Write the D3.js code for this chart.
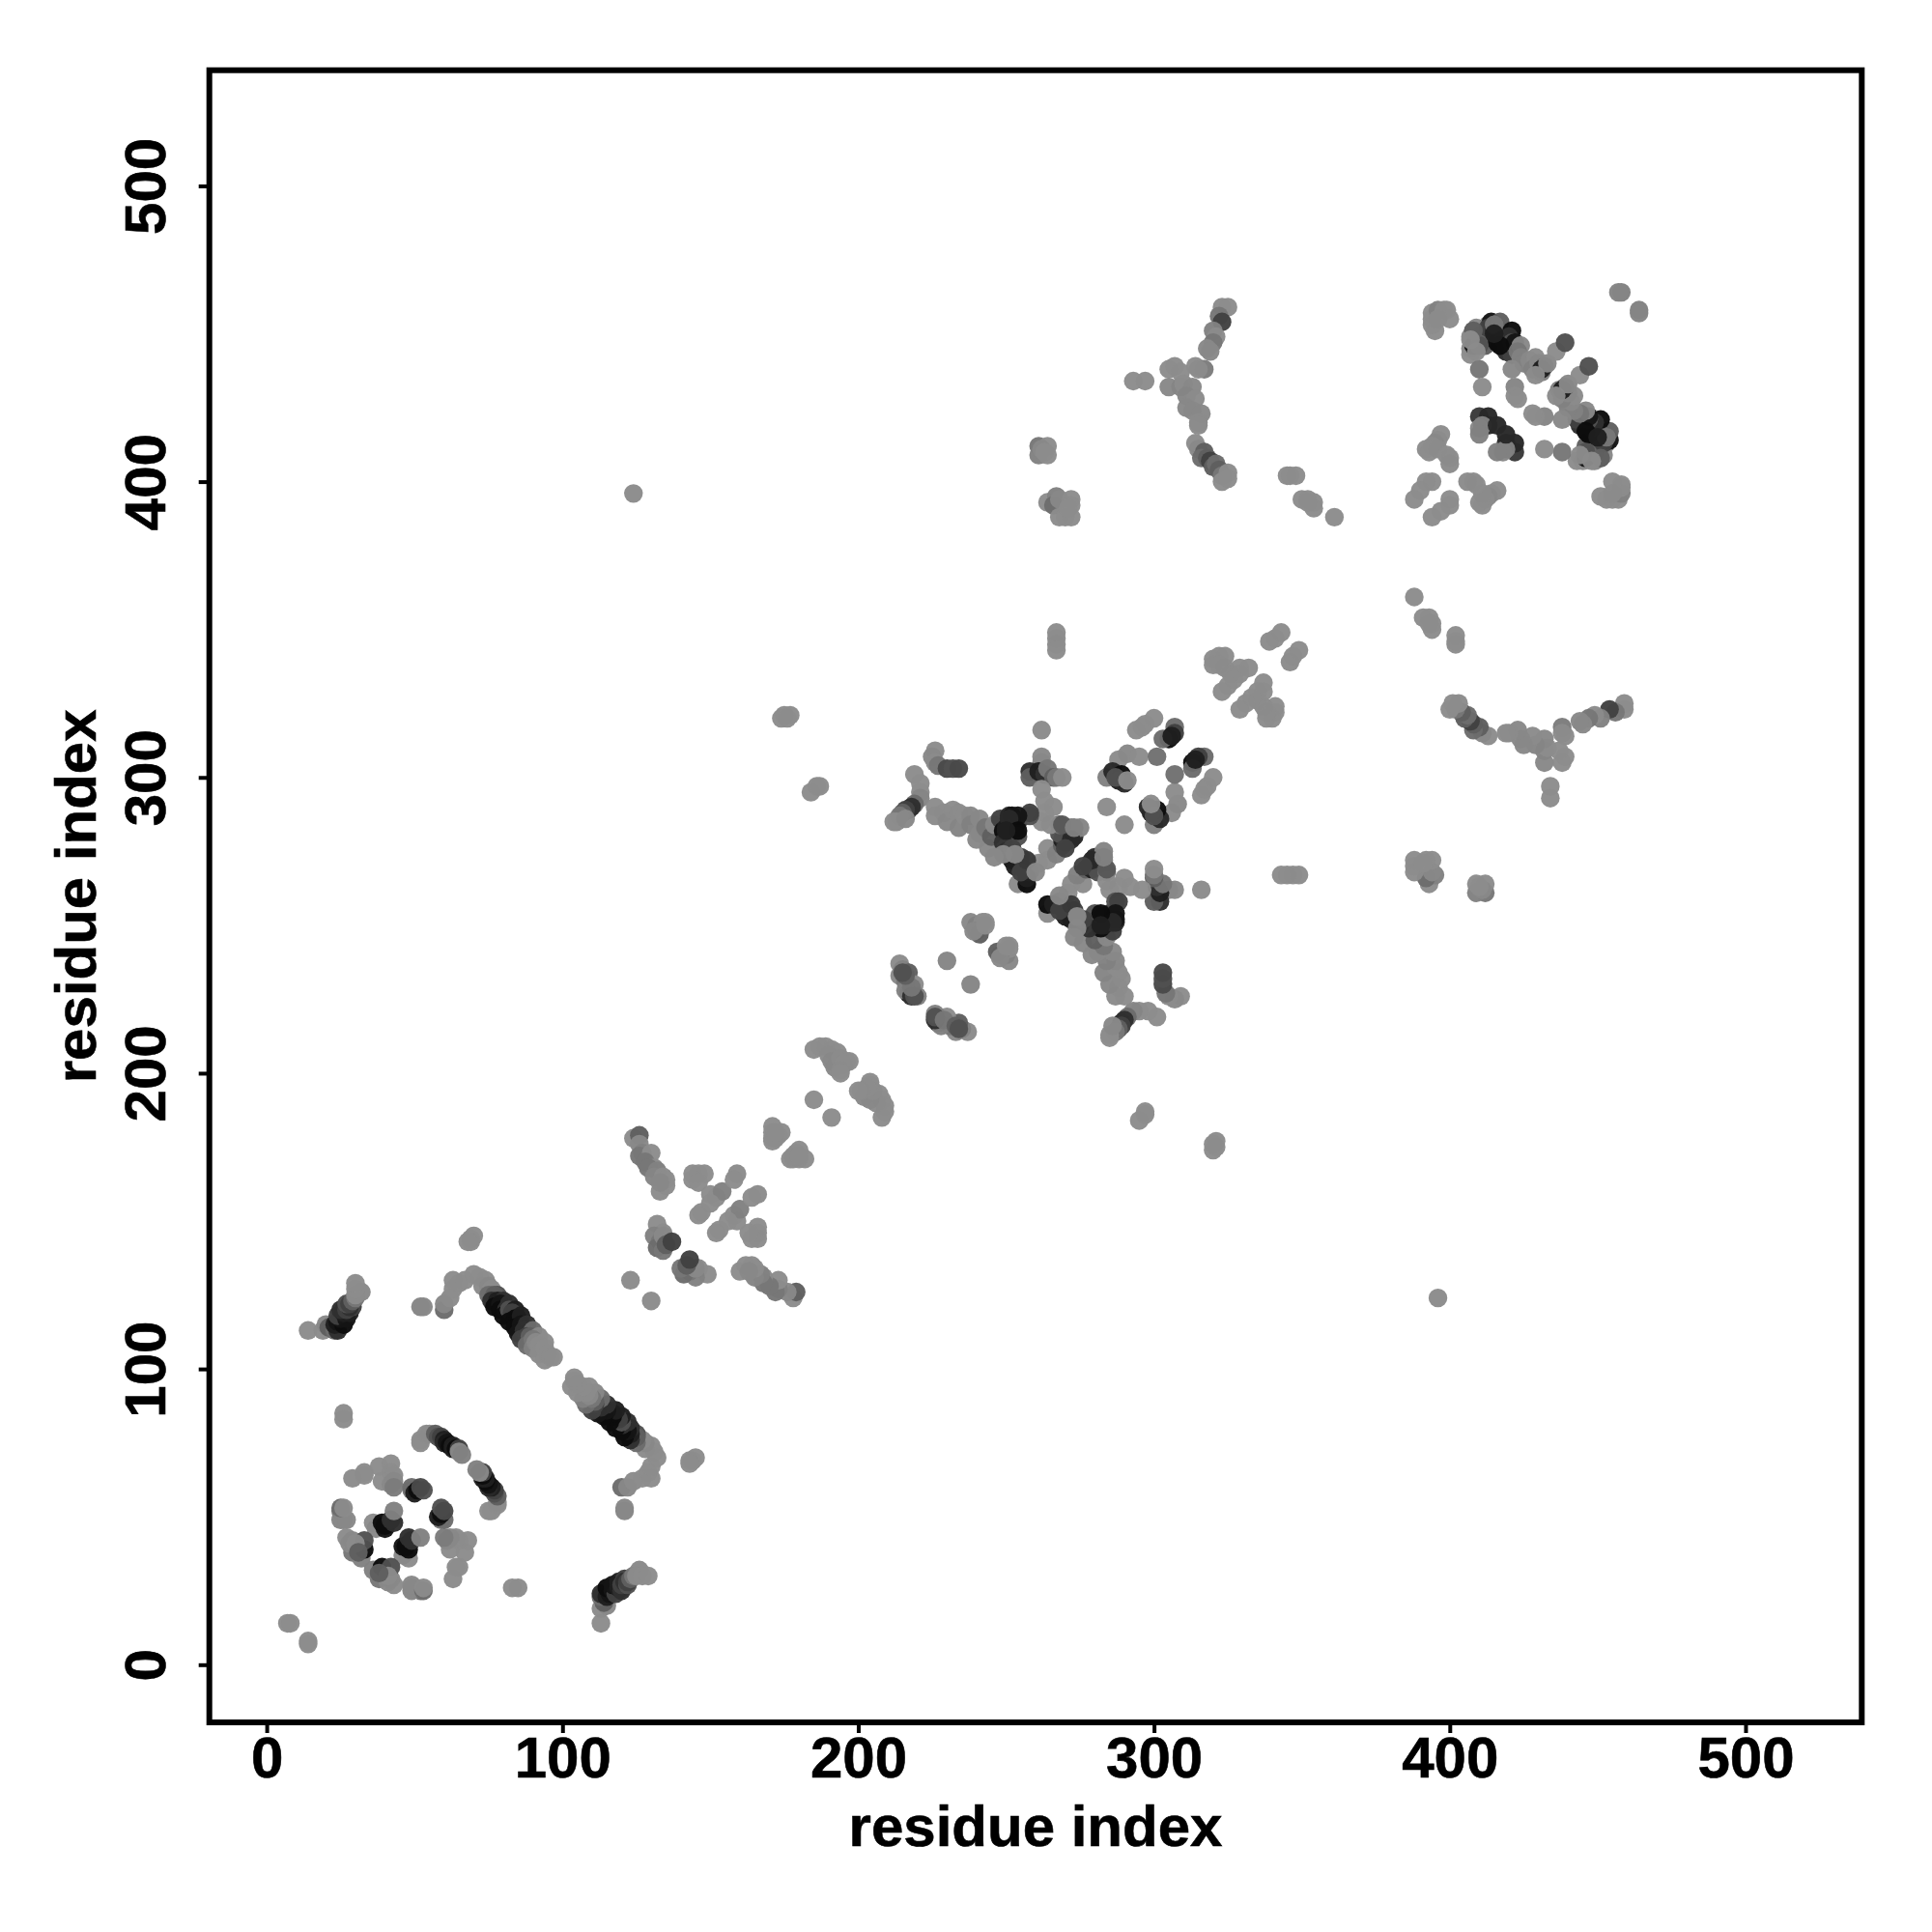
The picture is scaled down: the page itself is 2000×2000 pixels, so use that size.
<!DOCTYPE html>
<html><head><meta charset="utf-8">
<script src="https://cdn.jsdelivr.net/npm/d3@7"></script>
<style>html,body{margin:0;padding:0;background:#fff}svg{display:block}text{font-family:"Liberation Sans",Arial,sans-serif;font-weight:bold;fill:#000;stroke:#000;stroke-width:.6px}</style>
</head><body><div id="chart"></div>
<script>
// Contact pairs: [residue i, residue j, strength 0..1]. The map is symmetric.
const tickValues=[0,100,200,300,400,500];
const axisTitle="residue index";
const contactsEnds=[[7,14,0],[8,14,0],[26,85,0],[26,83,0],[124,396,.03],[123,130,.03],[184,295,0],[186,297,0],[187,297,0],[175,321,0],[177,321,0],[174,320,0],[176,320,0],[185,191,.02]];
const contactsArc=[[14,113,0],[19,113,.05],[20,115,.1],[21,114,.5],[23,113,.4],[24,113,.8],[23,115,.9],[24,116,.95],[26,115,1],[25,117,.95],[25,118,1],[24,118,.7],[27,117,.95],[26,119,.9],[26,120,.9],[28,119,.9],[25,120,.8],[27,120,.7],[29,121,.7],[28,121,.8],[27,122,.6],[28,122,.7],[29,123,.5],[30,124,.3],[32,126,.1],[30,125,.05],[30,127,0],[30,129,0]];
const contactsStrand=[[60,120,.4],[60,122,.1],[62,124,.05],[63,127,0],[65,129,0],[63,130,0],[67,130,0],[52,121,.15],[53,121,.1],[69,143,0],[69,144,0],[70,145,0],[68,143,0],[70,132,0],[72,131,0],[74,130,0],[73,128,.05],[75,128,.1],[76,127,.05],[78,125,.6],[75,125,.4],[77,125,.5],[76,123,.8],[78,123,.9],[80,123,.8],[77,121,1],[79,122,.95],[79,120,1],[82,122,.8],[81,120,.8],[80,118,1],[82,120,.6],[84,120,.9],[83,119,.7],[82,116,1],[84,117,1],[85,117,1],[86,118,.9],[84,114,1],[86,115,.95],[88,115,.8],[85,112,.95],[87,113,.8],[90,113,.4],[86,110,.7],[88,111,.7],[89,111,.5],[88,108,.4],[92,111,.1],[90,110,.3],[90,107,.2],[91,109,.1],[94,109,0],[92,108,.05],[92,105,.05],[94,107,0],[94,103,0],[95,105,0],[96,104,0],[97,104,0]];
const contactsBarrel=[[29,63,.05],[33,65,0],[33,64,0],[38,67,0],[42,68,0],[39,62,0],[42,65,0],[43,64,0],[42,61,.1],[43,62,.1],[43,60,.25],[49,59,.3],[49,60,.4],[50,58,.9],[51,59,1],[53,59,.6],[52,60,.65],[25,52,.3],[25,49,.15],[26,49,.1],[27,49,.1],[25,53,.4],[26,53,.05],[36,48,0],[37,46,.1],[40,46,.95],[39,48,1],[41,48,.95],[40,47,1],[43,48,.8],[42,49,.8],[43,52,.2],[27,43,.05],[29,42,.1],[29,38,.3],[28,41,.1],[32,36,.2],[33,39,1],[33,42,.6],[30,41,.05],[31,38,.5],[52,75,0],[52,76,0],[54,78,0],[55,78,.05],[57,78,.5],[58,77,.6],[59,77,.7],[60,76,.9],[60,75,.85],[61,75,.95],[62,74,1],[63,74,.9],[63,73,.9],[64,73,1],[65,73,.7],[65,72,.1],[66,71,.2]];
const contactsMiddle=[[124,178,0],[126,179,.5],[126,176,.1],[127,173,.2],[126,172,.3],[130,173,0],[128,170,.3],[131,168,.05],[129,168,.3],[132,167,.2],[131,165,.15],[134,165,0],[135,164,0],[133,160,0],[135,162,0],[133,163,.1],[132,149,0],[134,146,.05],[131,145,.2],[133,143,.3],[132,141,.4],[134,145,.1],[134,140,.3],[135,142,.5],[137,143,.7],[144,166,0],[146,166,0],[148,166,0],[144,164,0],[146,163,0],[150,159,0],[152,158,0],[154,160,.2],[159,166,.03],[158,164,0],[146,152,0],[147,153,0],[150,156,0],[171,180,0],[173,179,0],[171,178,0],[171,177,0],[171,182,0],[174,180,0],[172,178,0],[172,180,0],[185,208,0],[187,209,0],[189,209,0],[191,208,0],[193,207,0],[190,206,.03],[191,204,.1],[192,202,.1],[194,205,.05],[196,204,0],[197,204,0],[195,203,0],[194,201,.05],[194,200,0]];
const contactsCore=[[262,316,.05],[262,307,.1],[262,305,.1],[258,302,.8],[258,300,.5],[261,302,.9],[263,301,.8],[264,303,.3],[266,300,.5],[267,300,.3],[269,300,0],[262,296,0],[263,292,0],[266,290,0],[263,288,0],[262,285,0],[226,309,0],[225,307,.1],[226,305,.05],[227,304,.3],[230,303,.65],[232,303,.6],[234,303,.65],[219,301,.02],[221,298,0],[221,295,.02],[221,293,.15],[219,291,.4],[218,290,.8],[217,289,.8],[216,289,.7],[215,288,.5],[214,287,.3],[213,285,.05],[212,285,0],[216,286,.1],[226,290,.02],[226,287,.05],[229,288,.03],[230,285,.1],[232,289,.05],[234,288,.05],[234,283,.15],[236,287,0],[238,287,.1],[238,284,.2],[241,286,.1],[241,281,.1],[240,279,.1],[243,283,.3],[244,276,.1],[245,280,.5],[246,284,.1],[248,286,.7],[249,282,1],[251,287,.85],[250,283,.9],[252,287,.95],[253,283,.85],[254,285,.8],[254,280,.6],[258,287,.6],[250,275,.9],[249,278,.8],[252,272,.95],[252,276,.7],[253,270,.9],[255,273,.7],[254,264,.05],[257,264,1],[258,268,.4],[257,266,.9],[256,269,.85],[261,271,0],[264,272,0],[264,276,0],[267,274,.2],[269,277,.5],[269,279,.9],[270,278,.8],[268,281,.6],[273,280,.85],[272,283,.1],[275,283,.15],[268,284,.4],[265,284,.05],[255,268,.7],[257,272,.75],[253,274,.1],[260,268,.1],[272,279,.85],[270,276,.7],[269,284,.55],[273,283,.2],[258,288,.7],[254,287,.95],[251,286,.85],[254,282,1],[250,282,.9],[249,274,.1],[246,273,.1]];
const contactsRing=[[284,290,.02],[294,316,0],[296,317,0],[297,318,0],[300,320,0],[288,306,.03],[291,308,.1],[295,307,.02],[301,307,.35],[284,300,.2],[286,302,.85],[289,301,1],[288,299,.9],[290,298,.85],[287,300,.6],[291,299,.05],[307,317,.4],[307,315,.7],[305,313,1],[303,313,.4],[306,314,.9],[214,237,.05],[215,235,.2],[214,233,.1],[217,234,.5],[216,231,.3],[219,230,0],[217,227,.9],[216,228,.2],[218,226,.8],[220,226,.2],[219,226,.6],[218,229,.3],[216,233,.5],[215,234,.6],[230,238,.15],[238,251,.1],[240,250,.2],[242,251,.05],[240,248,.3],[241,247,.5],[239,248,.1],[243,251,0],[243,250,.05]];
const contactsUpper=[[323,459,.05],[325,459,0],[322,456,.3],[323,454,.7],[320,451,.2],[321,449,.05],[320,447,.3],[318,445,.1],[319,444,.1],[314,439,.02],[317,438,.25],[315,438,.05],[305,438,0],[307,439,0],[309,437,0],[305,432,.1],[309,432,.15],[310,433,0],[313,432,.1],[311,429,.15],[314,428,.05],[311,425,.1],[313,424,.1],[316,423,.1],[315,420,.05],[315,419,.05],[293,434,0],[297,434,0],[314,413,.02],[315,411,.1],[317,410,.5],[316,408,.4],[318,408,.5],[319,407,.7],[320,405,.5],[321,406,.4],[322,404,.5],[323,402,.3],[325,403,.05],[323,400,0],[325,401,0],[261,412,.3],[261,409,.2],[264,412,0],[264,409,0],[262,411,.1],[263,410,0],[264,393,0],[267,395,.2],[266,392,.4],[268,394,.1],[272,394,0],[272,392,0],[268,388,0],[270,388,0],[272,388,0],[271,391,0],[345,402,0],[346,402,0],[348,402,0],[350,394,0],[352,394,0],[354,393,0],[354,391,0],[352,393,0],[361,388,0],[267,349,0],[267,347,0],[267,345,.03],[267,343,0],[320,340,0],[322,341,0],[324,341,0],[320,338,0],[322,338,0],[324,337,.03],[326,335,.03],[329,337,0],[332,337,0],[329,335,0],[327,333,0],[325,331,.02],[323,329,0],[339,346,.03],[341,347,0],[343,349,0]];
const contactsTop=[[458,464,.2],[457,464,.15],[395,451,0],[394,453,0],[394,455,0],[394,457,0],[396,458,.2],[398,458,0],[399,458,0],[400,455,0],[396,455,.05],[407,449,.1],[408,451,.3],[409,452,.1],[408,447,.1],[407,445,.05],[407,443,0],[408,446,.95],[410,449,.5],[412,446,.5],[413,453,.1],[414,454,.95],[413,452,.7],[415,451,.8],[416,447,1],[417,454,.5],[415,453,.3],[418,448,.9],[421,451,1],[419,444,.8],[420,449,.8],[421,443,.7],[421,447,.6],[422,447,.95],[424,446,.1],[423,444,.3],[424,442,.2],[425,440,.2],[427,441,.1],[429,442,.05],[428,438,.2],[431,437,.2],[430,440,.1],[432,439,.4],[431,438,.9],[433,440,.1],[429,436,.05],[421,438,.1],[410,438,.3],[411,432,0],[422,432,.15],[422,429,0],[423,428,0],[436,444,0],[439,447,.6],[410,422,.75],[413,422,.85],[413,419,.85],[410,418,.1],[411,419,.2],[416,419,.85],[410,416,.2],[410,446,.6],[408,451,.5],[407,448,.05],[409,444,.05],[417,446,1],[415,450,.9],[397,416,0],[396,414,.05],[395,413,.1],[394,412,0],[392,411,.02],[393,410,0],[396,411,.05],[399,409,0],[400,408,0],[400,406,.03],[394,400,0],[392,400,0],[390,397,0],[388,394,0]];

const width=2000,height=2000;
const box={left:216.7,right:1927.3,top:72.7,bottom:1783};
const x=d3.scaleLinear().domain([-19.4,539.3]).range([box.left,box.right]);
const y=d3.scaleLinear().domain([-19.5,539.1]).range([box.bottom,box.top]);
const shade=d3.scalePow().exponent(1.5).domain([0,1]).range(["#8c8c8c","#0c0c0c"]);

const svg=d3.select("#chart").append("svg").attr("width",width).attr("height",height);
svg.append("rect").attr("width",width).attr("height",height).attr("fill","#fff");

const contacts=[contactsEnds,contactsArc,contactsStrand,contactsBarrel,contactsMiddle,contactsCore,contactsRing,contactsUpper,contactsTop].flat();
const points=contacts.flatMap(([i,j,p])=>[{x:i,y:j,p},{x:j,y:i,p}]);
svg.append("g").selectAll("circle").data(points).join("circle")
  .attr("cx",d=>x(d.x)).attr("cy",d=>y(d.y)).attr("r",9.7)
  .attr("fill",d=>shade(d.p)).attr("fill-opacity",.97);

const gx=svg.append("g").attr("transform",`translate(0,${box.bottom})`)
  .call(d3.axisBottom(x).tickValues(tickValues).tickFormat(d3.format("d")).tickSize(11).tickPadding(2));
const gy=svg.append("g").attr("transform",`translate(${box.left},0)`)
  .call(d3.axisLeft(y).tickValues(tickValues).tickFormat(d3.format("d")).tickSize(11).tickPadding(0));
gx.select(".domain").remove();gy.select(".domain").remove();
svg.selectAll(".tick line").attr("stroke","#000").attr("stroke-width",4);
svg.selectAll(".tick text").style("font-size","60px").style("font-family","Liberation Sans").style("font-weight","bold").attr("fill","#000");
gx.selectAll(".tick text").attr("y",null).attr("dy",null).attr("text-anchor","middle").attr("transform","translate(0,57)");
gy.selectAll(".tick text").attr("x",null).attr("dy",null).attr("text-anchor","middle").attr("transform","translate(-46,0) rotate(-90)");

svg.append("rect").attr("x",box.left).attr("y",box.top).attr("width",box.right-box.left).attr("height",box.bottom-box.top)
  .attr("fill","none").attr("stroke","#000").attr("stroke-width",6);

svg.append("text").attr("x",(box.left+box.right)/2).attr("y",1911).attr("text-anchor","middle").style("font-size","60px").text(axisTitle);
svg.append("text").attr("transform",`translate(99,${(box.top+box.bottom)/2}) rotate(-90)`).attr("text-anchor","middle").style("font-size","60px").text(axisTitle);
</script></body></html>
